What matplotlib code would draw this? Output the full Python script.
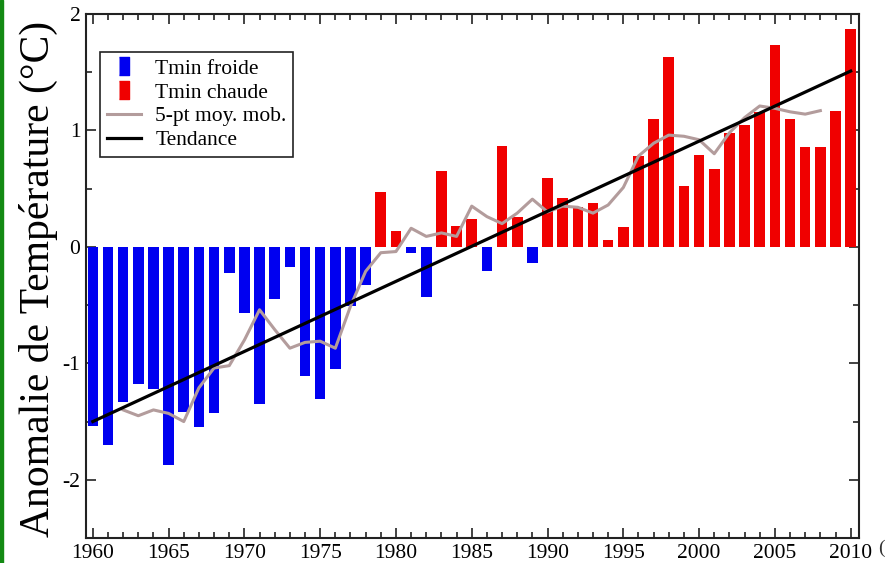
import numpy as np
import matplotlib
matplotlib.use("Agg")
import matplotlib.pyplot as plt
from matplotlib.lines import Line2D
from matplotlib.patches import Rectangle
from matplotlib.ticker import MultipleLocator

plt.rcParams["font.family"] = ["Liberation Serif", "DejaVu Serif"]
plt.rcParams["axes.unicode_minus"] = False

# Annual Tmin anomalies (°C)
years = list(range(1960, 2011))
anomalies = [
    -1.54, -1.70, -1.33, -1.18, -1.22, -1.87, -1.42, -1.55, -1.43, -0.22,
    -0.57, -1.35, -0.45, -0.17, -1.11, -1.31, -1.05, -0.51, -0.33, 0.47,
    0.14, -0.05, -0.43, 0.65, 0.18, 0.24, -0.21, 0.87, 0.26, -0.14,
    0.59, 0.42, 0.34, 0.38, 0.06, 0.17, 0.78, 1.10, 1.63, 0.52,
    0.79, 0.67, 0.98, 1.05, 1.16, 1.73, 1.10, 0.86, 0.86, 1.17,
    1.87,
]

# 5-point running mean
ma_years = list(range(1962, 2009))
ma_values = [
    -1.40, -1.45, -1.40, -1.43, -1.50, -1.21, -1.04, -1.02, -0.80, -0.54,
    -0.71, -0.87, -0.82, -0.81, -0.87, -0.51, -0.21, -0.05, -0.04, 0.16,
    0.09, 0.12, 0.09, 0.35, 0.26, 0.20, 0.29, 0.41, 0.30, 0.35,
    0.34, 0.29, 0.36, 0.51, 0.78, 0.89, 0.96, 0.95, 0.92, 0.80,
    0.98, 1.11, 1.21, 1.19, 1.16, 1.14, 1.17,
]

# Linear trend end points
trend_years = [1960, 2010]
trend_values = [-1.50, 1.51]

BLUE = "#0000f0"
RED = "#f00000"
GREY = "#b39c9c"

fig = plt.figure(figsize=(8.86, 5.63), dpi=100)
ax = fig.add_axes([86 / 886, 1 - 538 / 563, 773 / 886, 524 / 563])

yrs = np.array(years)
vals = np.array(anomalies)
cold = vals < 0
ax.bar(yrs[cold], vals[cold], width=0.7, color=BLUE, zorder=2)
ax.bar(yrs[~cold], vals[~cold], width=0.7, color=RED, zorder=2)

ax.plot(ma_years, ma_values, color=GREY, lw=2.2, zorder=3)
ax.plot(trend_years, trend_values, color="black", lw=2.3, zorder=4)

ax.set_xlim(1959.55, 2010.55)
ax.set_ylim(-2.5, 2)
ax.xaxis.set_major_locator(MultipleLocator(5))
ax.xaxis.set_minor_locator(MultipleLocator(1))
ax.yaxis.set_major_locator(MultipleLocator(1))
ax.yaxis.set_minor_locator(MultipleLocator(0.5))
ax.set_yticks([-2, -1, 0, 1, 2])
ax.set_yticklabels(["-2", "-1", "0", "1", "2"])

ax.tick_params(which="both", direction="in", top=True, right=True,
               labelsize=15.5, width=1.2, color="#222222")
ax.tick_params(which="major", length=7, pad=4)
ax.tick_params(which="minor", length=4)
for s in ax.spines.values():
    s.set_linewidth(1.5)
    s.set_color("#222222")

ax.set_ylabel("Anomalie de Température (°C)", fontsize=30)
ax.yaxis.set_label_coords(-0.036, 0.494)

rect_marker = [(-0.28, -0.5), (0.28, -0.5), (0.28, 0.5), (-0.28, 0.5)]
handles = [
    Line2D([], [], ls="none", marker=rect_marker, markersize=13,
           markerfacecolor=BLUE, markeredgecolor=BLUE),
    Line2D([], [], ls="none", marker=rect_marker, markersize=13,
           markerfacecolor=RED, markeredgecolor=RED),
    Line2D([], [], color=GREY, lw=2.2),
    Line2D([], [], color="black", lw=2.3),
]
labels = ["Tmin froide", "Tmin chaude", "5-pt moy. mob.", "Tendance"]
leg = ax.legend(handles, labels, loc="upper left",
                bbox_to_anchor=((100 - 86) / 773, (538 - 52) / 524),
                borderaxespad=0, fancybox=False, framealpha=1,
                edgecolor="#222222", fontsize=15.5, handlelength=1.6,
                handletextpad=0.65, labelspacing=0.17, borderpad=0.32)
leg.get_frame().set_linewidth(1.2)

# green border strip on the left edge
fig.patches.append(Rectangle((0, 0), 3 / 886, 1, transform=fig.transFigure,
                             color="#138a13", zorder=10))
fig.text(878 / 886, 1 - 548 / 563, "(", fontsize=14, color="#333333",
         va="center", ha="left")

fig.savefig("out.png", dpi=100)
